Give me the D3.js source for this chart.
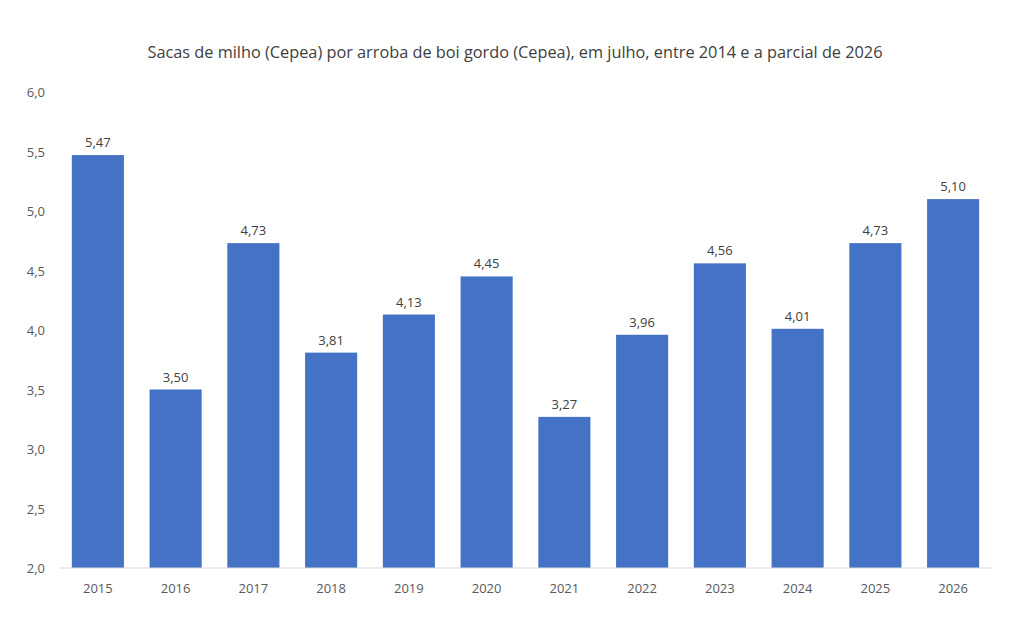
<!DOCTYPE html>
<html>
<head>
    <meta charset="utf-8">
    <title></title>
    <style>
        body { margin: 0; background: #fff; }
        text { font-family: "Open Sans", "Noto Sans", sans-serif; }
    </style>
</head>
<body>
<script src="https://cdn.jsdelivr.net/npm/d3@7/dist/d3.min.js"></script>
<script>
    var width  = 1011;
    var height = 630;

    const titulo = "Sacas de milho (Cepea) por arroba de boi gordo (Cepea), em julho, entre 2014 e a parcial de 2026";
    const anos = ["2015","2016","2017","2018","2019","2020","2021","2022","2023","2024","2025","2026"];
    const valores = [5.47,3.50,4.73,3.81,4.13,4.45,3.27,3.96,4.56,4.01,4.73,5.10];
    const yTicks = [2.0,2.5,3.0,3.5,4.0,4.5,5.0,5.5,6.0];

    var fmt = d3.formatLocale({decimal: ",", thousands: ".", grouping: [3], currency: ["R$", ""]});
    var f1 = fmt.format(".1f"), f2 = fmt.format(".2f");

    var svg = d3.select("body").append("svg")
        .attr("width", width)
        .attr("height", height);

    var x = d3.scaleBand()
        .domain(anos)
        .range([59, 992])
        .paddingInner(0.33)
        .paddingOuter(0.165);

    var y = d3.scaleLinear()
        .domain([2, 6])
        .range([568, 92]);

    // titulo
    svg.append("text")
        .attr("x", 515)
        .attr("y", 58)
        .attr("text-anchor", "middle")
        .attr("font-size", "16px")
        .attr("fill", "#404040")
        .attr("textLength", 735)
        .attr("lengthAdjust", "spacingAndGlyphs")
        .text(titulo);

    // eixo y
    svg.append("g").selectAll("text")
        .data(yTicks)
        .enter()
        .append("text")
        .attr("x", 45)
        .attr("y", d => y(d) + 5)
        .attr("text-anchor", "end")
        .attr("font-size", "13px")
        .attr("fill", "#595959")
        .text(d => f1(d));

    // barras
    svg.append("g").selectAll("rect")
        .data(valores)
        .enter()
        .append("rect")
        .attr("x", (d, i) => x(anos[i]))
        .attr("width", x.bandwidth())
        .attr("y", d => y(d))
        .attr("height", d => y(2) - y(d))
        .attr("fill", "#4472C4");

    // linha base
    svg.append("line")
        .attr("x1", 59).attr("x2", 992)
        .attr("y1", y(2)).attr("y2", y(2))
        .attr("stroke", "#d9d9d9")
        .attr("stroke-width", 1);

    // rotulos
    svg.append("g").selectAll("text")
        .data(valores)
        .enter()
        .append("text")
        .attr("x", (d, i) => x(anos[i]) + x.bandwidth() / 2)
        .attr("y", d => y(d) - 8)
        .attr("text-anchor", "middle")
        .attr("font-size", "13px")
        .attr("fill", "#404040")
        .text(d => f2(d));

    // anos
    svg.append("g").selectAll("text")
        .data(anos)
        .enter()
        .append("text")
        .attr("x", d => x(d) + x.bandwidth() / 2)
        .attr("y", 593)
        .attr("text-anchor", "middle")
        .attr("font-size", "13px")
        .attr("fill", "#595959")
        .text(d => d);
</script>
</body>
</html>
